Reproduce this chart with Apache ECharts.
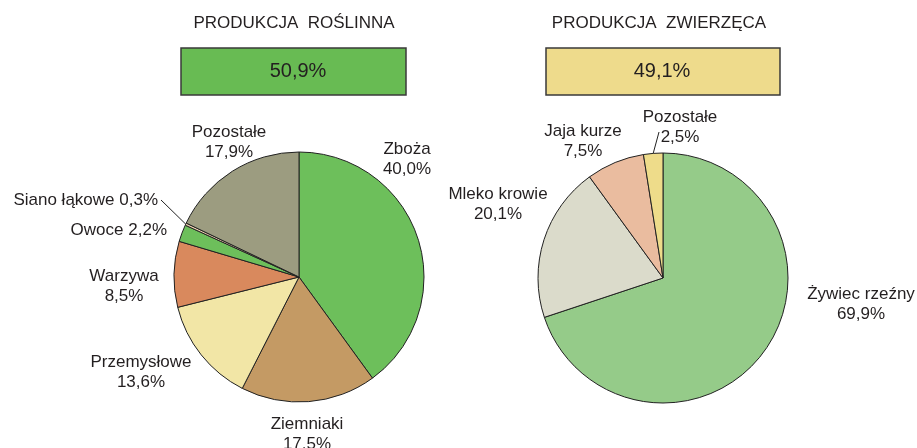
<!DOCTYPE html>
<html>
<head>
    <meta charset="utf-8">
    <script src="https://cdn.jsdelivr.net/npm/echarts@6/dist/echarts.min.js"></script>
    <style>
        html, body { margin: 0; padding: 0; background: #fff; }
    </style>
</head>
<body>
    <div id="main" style="width: 917px; height: 448px"></div>
    <script type="text/javascript">
        // data
        var groupTitles = ['PRODUKCJA  ROŚLINNA', 'PRODUKCJA  ZWIERZĘCA'];
        var groupShares = [50.9, 49.1];

        var plantNames = ['Zboża', 'Ziemniaki', 'Przemysłowe', 'Warzywa', 'Owoce', 'Siano łąkowe', 'Pozostałe'];
        var plantValues = [40.0, 17.5, 13.6, 8.5, 2.2, 0.3, 17.9];

        var animalNames = ['Żywiec rzeźny', 'Mleko krowie', 'Jaja kurze', 'Pozostałe'];
        var animalValues = [69.9, 20.1, 7.5, 2.5];

        // styles
        var plantColors = ['#6dbf5b', '#c49a64', '#f2e6a6', '#d9895d', '#6dbf5b', '#eccfae', '#9c9c80'];
        var animalColors = ['#95cb89', '#dbdbcb', '#eabc9f', '#eedc8a'];
        var boxColors = ['#68bb53', '#eedb8c'];
        var singleLine = ['Siano łąkowe', 'Owoce'];
        var textColor = '#231f20';
        var font = '"Liberation Sans", Arial, sans-serif';

        // label anchors [x, y, align]
        var plantLabelPos = [
            [407, 159, 'center'],
            [307, 434, 'center'],
            [141, 372, 'center'],
            [124, 286, 'center'],
            [167, 230, 'right'],
            [158, 200, 'right'],
            [229, 142, 'center']
        ];
        var animalLabelPos = [
            [861, 304, 'center'],
            [498, 204, 'center'],
            [583, 141, 'center'],
            [680, 127, 'center']
        ];
        var lineEnds = {
            '0-5': [161, 200],
            '1-3': [659, 132]
        };

        function pct(v) {
            return v.toFixed(1).replace('.', ',') + '%';
        }

        function buildData(names, values, colors, withLine) {
            var out = [];
            for (var i = 0; i < names.length; i++) {
                var item = {
                    name: names[i],
                    value: values[i],
                    itemStyle: { color: colors[i] }
                };
                if (withLine.indexOf(i) >= 0) {
                    item.labelLine = { show: true };
                }
                out.push(item);
            }
            return out;
        }

        function makeLayout(seriesIdx, posList) {
            return function (params) {
                var p = posList[params.dataIndex];
                var res = { x: p[0], y: p[1], align: p[2], verticalAlign: 'middle' };
                var end = lineEnds[seriesIdx + '-' + params.dataIndex];
                if (end && params.labelLinePoints) {
                    res.labelLinePoints = [params.labelLinePoints[0], end];
                }
                return res;
            };
        }

        function pieSeries(idx, center, names, values, colors, withLine, posList) {
            return {
                type: 'pie',
                center: center,
                radius: 125,
                startAngle: 90,
                clockwise: true,
                avoidLabelOverlap: false,
                silent: true,
                data: buildData(names, values, colors, withLine),
                itemStyle: { borderColor: '#222', borderWidth: 1 },
                label: {
                    show: true,
                    position: 'outside',
                    color: textColor,
                    fontFamily: font,
                    fontSize: 17,
                    lineHeight: 20,
                    formatter: function (p) {
                        var sep = singleLine.indexOf(p.name) >= 0 ? ' ' : '\n';
                        return p.name + sep + pct(p.value);
                    }
                },
                labelLine: {
                    show: false,
                    length: 5,
                    length2: 5,
                    lineStyle: { color: '#222', width: 1 }
                },
                labelLayout: makeLayout(idx, posList)
            };
        }

        var boxes = [
            { x: 181, y: 48, w: 225, h: 47, titleX: 294, textX: 298 },
            { x: 546, y: 48, w: 234, h: 47, titleX: 659, textX: 662 }
        ];
        var graphics = [];
        for (var g = 0; g < boxes.length; g++) {
            var b = boxes[g];
            graphics.push({
                type: 'text', left: null, x: b.titleX, y: 23,
                style: {
                    text: groupTitles[g], fill: textColor, font: '17px ' + font,
                    textAlign: 'center', textVerticalAlign: 'middle'
                }
            });
            graphics.push({
                type: 'rect',
                shape: { x: b.x, y: b.y, width: b.w, height: b.h },
                style: { fill: boxColors[g], stroke: '#3a3a3a', lineWidth: 1.5 }
            });
            graphics.push({
                type: 'text', x: b.textX, y: b.y + b.h / 2,
                style: {
                    text: pct(groupShares[g]), fill: textColor, font: '20px ' + font,
                    textAlign: 'center', textVerticalAlign: 'middle'
                }
            });
        }

        var myChart = echarts.init(document.getElementById('main'));
        var option = {
            animation: false,
            backgroundColor: '#fff',
            graphic: graphics,
            series: [
                pieSeries(0, [299, 277], plantNames, plantValues, plantColors, [5], plantLabelPos),
                pieSeries(1, [663, 278], animalNames, animalValues, animalColors, [3], animalLabelPos)
            ]
        };
        myChart.setOption(option);
    </script>
</body>
</html>
